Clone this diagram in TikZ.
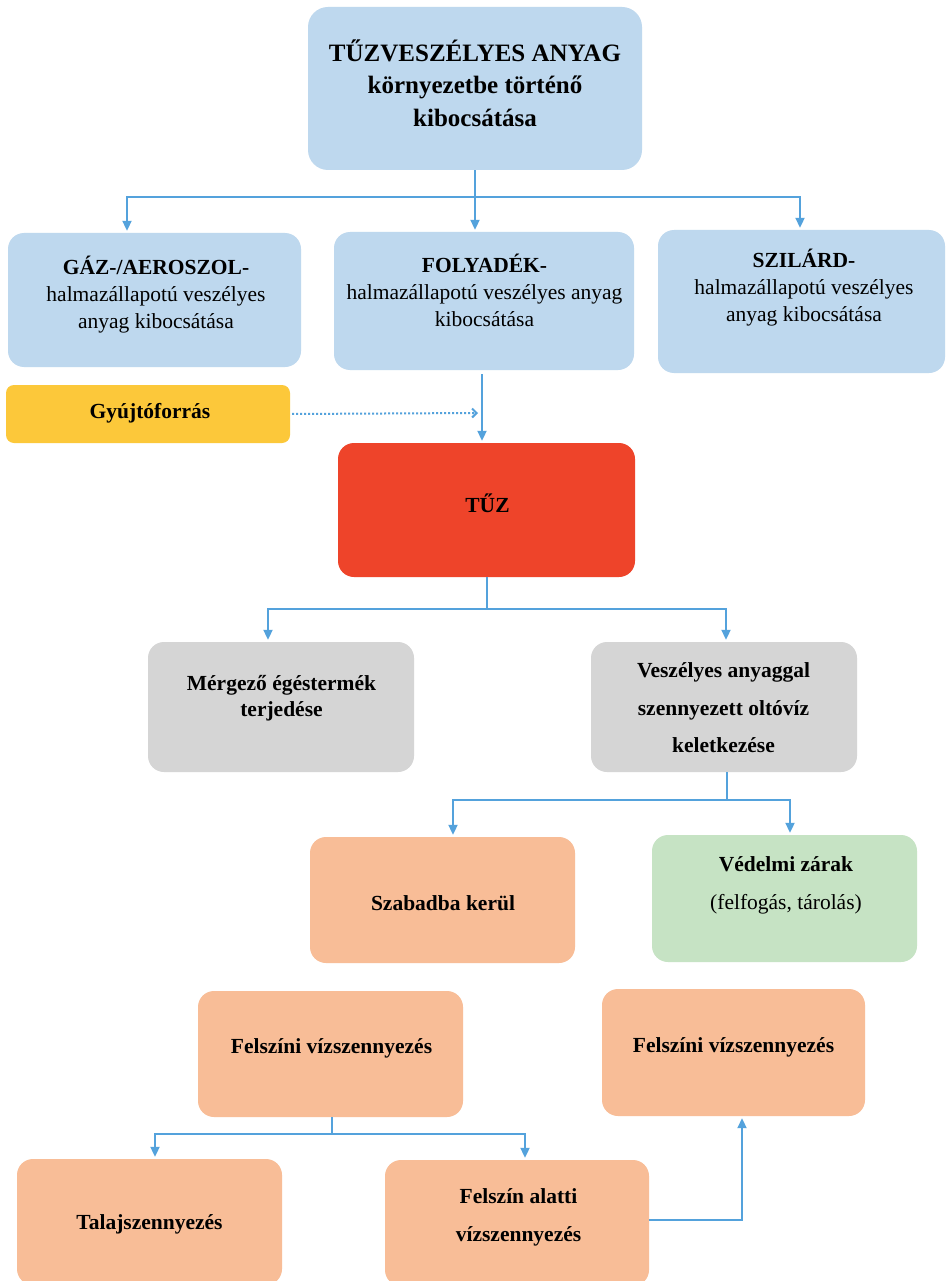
\documentclass[tikz,border=0pt]{standalone}
\usepackage{fontspec}
\setmainfont{Liberation Serif}
\usetikzlibrary{arrows.meta}
\definecolor{cblue}{RGB}{190,216,238}
\definecolor{cyel}{RGB}{252,200,58}
\definecolor{cred}{RGB}{238,68,42}
\definecolor{cgray}{RGB}{213,213,213}
\definecolor{cpeach}{RGB}{248,189,151}
\definecolor{cgreen}{RGB}{198,227,196}
\definecolor{cline}{RGB}{84,162,220}
\begin{document}
\begin{tikzpicture}[x=1pt,y=-1pt,
  box/.style={rounded corners=16pt, inner sep=0pt, draw=none},
  bluebox/.style={box, fill=cblue},
  yelbox/.style={box, fill=cyel, rounded corners=8pt},
  redbox/.style={box, fill=cred},
  graybox/.style={box, fill=cgray},
  peachbox/.style={box, fill=cpeach},
  greenbox/.style={box, fill=cgreen},
  txt/.style={align=center, inner sep=0pt, text=black, font=\bfseries\fontsize{21.5}{27}\selectfont},
  line/.style={draw=cline, line width=2pt},
  arr/.style={line, -{Triangle[length=10pt,width=9pt]}, shorten >=2pt},
  dotarr/.style={draw=cline, line width=2pt, dash pattern=on 2pt off 2pt, -{Straight Barb[length=4.5pt,width=9pt]}},
]
\useasboundingbox (0,0) rectangle (948,1281);
\fill[white] (0,0) rectangle (948,1281);
\clip (0,0) rectangle (948,1281);

% boxes
\node[bluebox, rounded corners=20pt, minimum width=334pt, minimum height=163pt] (top) at (475,88.5) {};
\node[bluebox, minimum width=293pt, minimum height=134pt] (gaz) at (154.5,300) {};
\node[bluebox, minimum width=300pt, minimum height=138pt] (foly) at (484,301) {};
\node[bluebox, minimum width=287pt, minimum height=143pt] (szil) at (801.5,301.5) {};
\node[yelbox, minimum width=284pt, minimum height=58pt] (gyuj) at (148,414) {};
\node[redbox, minimum width=297pt, minimum height=134pt] (tuz) at (486.5,510) {};
\node[graybox, minimum width=266pt, minimum height=130pt] (merg) at (281,707) {};
\node[graybox, minimum width=266pt, minimum height=130pt] (vesz) at (724,707) {};
\node[peachbox, minimum width=265pt, minimum height=126pt] (szab) at (442.5,900) {};
\node[greenbox, minimum width=265pt, minimum height=127pt] (ved) at (784.5,898.5) {};
\node[peachbox, minimum width=265pt, minimum height=126pt] (felL) at (330.5,1054) {};
\node[peachbox, minimum width=263pt, minimum height=127pt] (felR) at (733.5,1052.5) {};
\node[peachbox, minimum width=265pt, minimum height=126pt] (talaj) at (149.5,1222) {};
\node[peachbox, minimum width=264pt, minimum height=126pt] (alatti) at (517,1223) {};

% texts
\node[txt, font=\bfseries\fontsize{25}{32.5}\selectfont] (topT) at (475,83) {TŰZVESZÉLYES ANYAG\\környezetbe történő\\kibocsátása};
\node[txt] (gazT) at (156,295) {GÁZ-/AEROSZOL-\\\textmd{halmazállapotú veszélyes}\\\textmd{anyag kibocsátása}};
\node[txt] (folyT) at (484.5,290) {FOLYADÉK-\\\textmd{halmazállapotú veszélyes anyag}\\\textmd{kibocsátása}};
\node[txt] (szilT) at (804,288) {SZILÁRD-\\\textmd{halmazállapotú veszélyes}\\\textmd{anyag kibocsátása}};
\node[txt] (gyujT) at (150,413) {Gyújtóforrás};
\node[txt] (tuzT) at (487.5,503) {TŰZ};
\node[txt, font=\bfseries\fontsize{21.5}{26}\selectfont] (mergT) at (281.5,698) {Mérgező égéstermék\\terjedése};
\node[txt, font=\bfseries\fontsize{21.5}{37.5}\selectfont] (veszT) at (723.5,708) {Veszélyes anyaggal\\szennyezett oltóvíz\\keletkezése};
\node[txt] (szabT) at (443,903) {Szabadba kerül};
\node[txt, font=\bfseries\fontsize{21.5}{38}\selectfont] (vedT) at (786,885) {Védelmi zárak\\\textmd{(felfogás, tárolás)}};
\node[txt] (felLT) at (331.5,1048) {Felszíni vízszennyezés};
\node[txt] (felRT) at (733.5,1047) {Felszíni vízszennyezés};
\node[txt] (talajT) at (149.5,1224) {Talajszennyezés};
\node[txt, font=\bfseries\fontsize{21.5}{38}\selectfont] (alattiT) at (518.5,1217) {Felszín alatti\\vízszennyezés};

% connectors
\draw[arr] (top.south) |- (127,197) -- (gaz.north -| 127,0);
\draw[arr] (top.south) |- (800,197) -- (szil.north -| 800,0);
\draw[arr] (top.south) -- (top.south |- foly.north);

\coordinate (ign) at (478,413);
\draw[dotarr, shorten <=2pt] (gyuj.east) -- (ign);
\draw[arr, shorten <=4pt] (foly.south -| 482,0) -- (tuz.north -| 482,0);

\draw[arr] (tuz.south) |- (268,609) -- (merg.north -| 268,0);
\draw[arr] (tuz.south) |- (726,609) -- (vesz.north -| 726,0);

\draw[arr] (vesz.south -| 727,0) |- (453,800) -- (szab.north -| 453,0);
\draw[arr] (vesz.south -| 727,0) |- (790,800) -- (ved.north -| 790,0);

\draw[arr] (felL.south -| 332,0) |- (155,1134) -- (talaj.north -| 155,0);
\draw[arr] (felL.south -| 332,0) |- (525,1134) -- (alatti.north -| 525,0);

\draw[arr] (alatti.east |- 0,1220) -| (felR.south -| 742,0);
\end{tikzpicture}
\end{document}
